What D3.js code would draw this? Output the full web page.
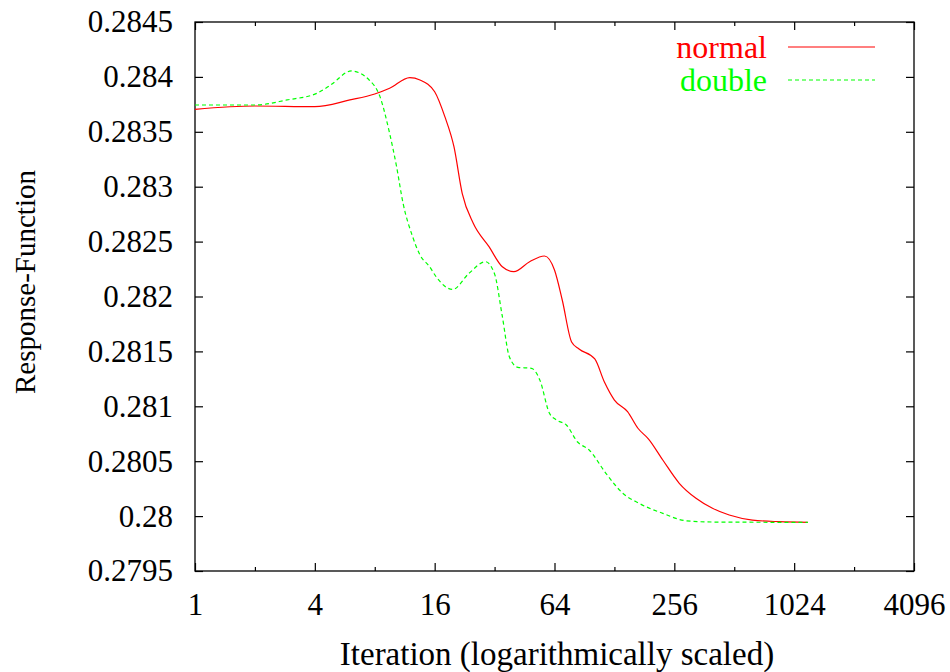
<!DOCTYPE html>
<html>
<head>
<meta charset="utf-8">
<script src="https://cdn.jsdelivr.net/npm/d3@7"></script>
<style>
  body { margin: 0; background: #fff; }
  svg text { font-family: "Liberation Serif", "Times New Roman", serif; font-size: 31px; }
</style>
</head>
<body>
<svg id="chart" width="950" height="672"></svg>
<script>
// data
const normalIter = [1, 2, 4, 6, 8, 9.5, 12, 13.5, 16, 18, 20, 22, 25, 30, 35, 40, 48, 57, 64, 70, 78, 85, 102, 114, 128, 149, 168, 190, 224, 271, 329, 398, 483, 632, 861, 1200];
const normalValues = [0.283705, 0.283735, 0.283729, 0.28379, 0.283844, 0.283896, 0.283993, 0.283972, 0.283865, 0.283638, 0.283364, 0.28294, 0.282667, 0.282454, 0.282271, 0.282226, 0.282317, 0.282369, 0.282241, 0.281968, 0.281586, 0.281522, 0.281431, 0.281221, 0.281057, 0.280951, 0.2808, 0.280702, 0.280511, 0.280299, 0.280162, 0.280071, 0.28001, 0.279964, 0.279949, 0.279943];

const doubleIter = [1, 2, 2.9, 4.1, 4.8, 6.1, 7.5, 8.5, 9.5, 10.3, 11.1, 12.4, 13.5, 15.1, 16.3, 19.7, 23.8, 28.8, 32, 34.9, 38, 41.9, 49, 54, 60.4, 65.5, 73.4, 83.6, 95.6, 116, 141, 170, 224, 292, 398, 1200];
const doubleValues = [0.283744, 0.283744, 0.28379, 0.283851, 0.283926, 0.284054, 0.283972, 0.28382, 0.283486, 0.283182, 0.282849, 0.282545, 0.282378, 0.282271, 0.282178, 0.282064, 0.282211, 0.282317, 0.282205, 0.281832, 0.281449, 0.281355, 0.281346, 0.28124, 0.280936, 0.280875, 0.28083, 0.280675, 0.280602, 0.28039, 0.280208, 0.280117, 0.280025, 0.279958, 0.279946, 0.279943];

const xMajorTicks = [1, 4, 16, 64, 256, 1024, 4096];
const xMinorTicks = [2, 8, 32, 128, 512, 2048];
const yTicks = [0.2795, 0.28, 0.2805, 0.281, 0.2815, 0.282, 0.2825, 0.283, 0.2835, 0.284, 0.2845];
const yTickLabels = ["0.2795", "0.28", "0.2805", "0.281", "0.2815", "0.282", "0.2825", "0.283", "0.2835", "0.284", "0.2845"];

const seriesNames = ["normal", "double"];
const seriesColors = ["#ff0000", "#00ff00"];
const seriesDash = [null, "4,3"];

const plotLeft = 195, plotRight = 914, plotTop = 22, plotBottom = 571;

const svg = d3.select("#chart");

const xScale = d3.scaleLog().base(2).domain([1, 4096]).range([plotLeft, plotRight]);
const yScale = d3.scaleLinear().domain([0.2795, 0.2845]).range([plotBottom, plotTop]);

// bottom axis
svg.append("g")
  .attr("transform", `translate(0,${plotBottom})`)
  .call(d3.axisBottom(xScale).tickValues(xMajorTicks).tickSize(-8).tickPadding(22).tickFormat(d3.format("d")));
svg.append("g")
  .attr("transform", `translate(0,${plotBottom})`)
  .call(d3.axisBottom(xScale).tickValues(xMinorTicks).tickSize(-4).tickFormat(""));
// top axis (ticks only)
svg.append("g")
  .attr("transform", `translate(0,${plotTop})`)
  .call(d3.axisTop(xScale).tickValues(xMajorTicks).tickSize(-8).tickFormat(""));
svg.append("g")
  .attr("transform", `translate(0,${plotTop})`)
  .call(d3.axisTop(xScale).tickValues(xMinorTicks).tickSize(-4).tickFormat(""));
// left axis
svg.append("g")
  .attr("transform", `translate(${plotLeft},0)`)
  .call(d3.axisLeft(yScale).tickValues(yTicks).tickSize(-8).tickPadding(22)
    .tickFormat(function (d, i) { return yTickLabels[i]; }));
// right axis (ticks only)
svg.append("g")
  .attr("transform", `translate(${plotRight},0)`)
  .call(d3.axisRight(yScale).tickValues(yTicks).tickSize(-8).tickFormat(""));

svg.selectAll(".domain").remove();
svg.selectAll(".tick line").attr("stroke", "#000").attr("stroke-width", 1.2);
svg.selectAll(".tick text").attr("fill", "#000").style("font-size", "31px")
  .style("font-family", "'Liberation Serif', serif");

// frame
svg.append("rect")
  .attr("x", plotLeft).attr("y", plotTop)
  .attr("width", plotRight - plotLeft).attr("height", plotBottom - plotTop)
  .attr("fill", "none").attr("stroke", "#000").attr("stroke-width", 1.3);

// curves
const lineGenerator = d3.line()
  .x(function (d) { return xScale(d[0]); })
  .y(function (d) { return yScale(d[1]); })
  .curve(d3.curveMonotoneX);

const series = [
  d3.zip(normalIter, normalValues),
  d3.zip(doubleIter, doubleValues),
];

svg.selectAll("path.series")
  .data(series)
  .enter()
  .append("path")
  .attr("class", "series")
  .attr("d", lineGenerator)
  .attr("fill", "none")
  .attr("stroke", function (d, i) { return seriesColors[i]; })
  .attr("stroke-width", 1.2)
  .attr("stroke-dasharray", function (d, i) { return seriesDash[i]; });

// legend
const legend = svg.selectAll("g.legend")
  .data(seriesNames)
  .enter()
  .append("g")
  .attr("class", "legend")
  .attr("transform", function (d, i) { return `translate(0,${47 + i * 33})`; });

legend.append("text")
  .attr("x", 767)
  .attr("y", 11)
  .attr("text-anchor", "end")
  .style("font-size", "32px")
  .attr("fill", function (d, i) { return seriesColors[i]; })
  .text(function (d) { return d; });

legend.append("line")
  .attr("x1", 788).attr("x2", 875)
  .attr("y1", 0).attr("y2", 0)
  .attr("stroke", function (d, i) { return seriesColors[i]; })
  .attr("stroke-width", 1.2)
  .attr("stroke-dasharray", function (d, i) { return seriesDash[i]; });

// axis titles
svg.append("text")
  .attr("x", 557)
  .attr("y", 665)
  .attr("text-anchor", "middle")
  .style("font-size", "33px")
  .text("Iteration (logarithmically scaled)");

svg.append("text")
  .attr("transform", "translate(35,282) rotate(-90)")
  .attr("text-anchor", "middle")
  .style("font-size", "29px")
  .text("Response-Function");
</script>
</body>
</html>
